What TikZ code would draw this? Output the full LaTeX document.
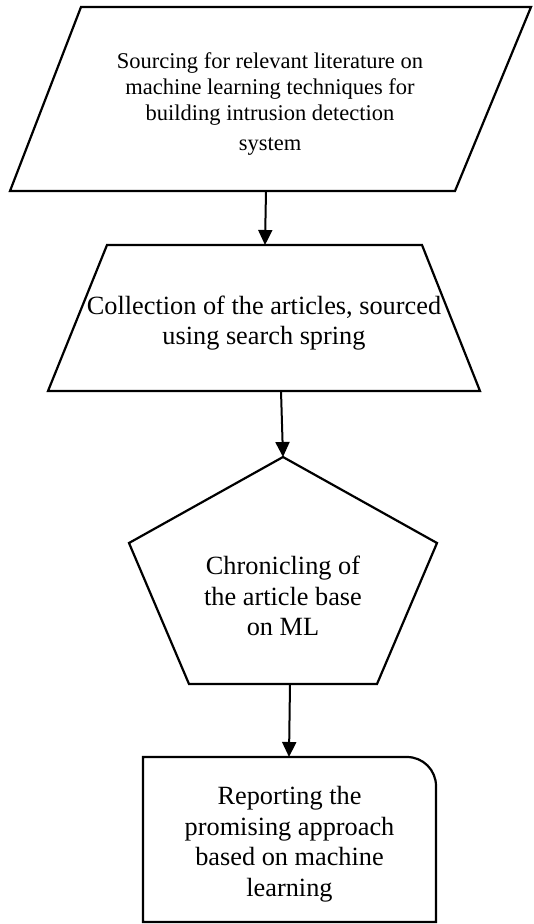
\documentclass[tikz,border=0pt]{standalone}
\usepackage{fontspec}
\setmainfont{Liberation Serif}
\usetikzlibrary{arrows.meta}

\begin{document}
\begin{tikzpicture}[
    x=1pt, y=-1pt,
    stepshape/.style={
        draw=black,
        line width=2.2pt,
        line join=miter
    },
    steptext/.style={
        align=center,
        inner sep=0pt,
        font=\fontsize{26.3}{30.5}\selectfont
    },
    flowarrow/.style={
        -{Triangle[length=15pt,width=14pt]},
        line width=2pt
    }
]
\useasboundingbox (0,0) rectangle (534,924);

% input: parallelogram
\draw[stepshape] (81,7) -- (531,7) -- (455,191) -- (10,191) -- cycle;
\coordinate (srcOut) at (266,191);
\node[steptext, font=\fontsize{22.5}{26}\selectfont] (src) at (270,104)
    {Sourcing for relevant literature on\\ machine learning techniques for\\ building intrusion detection\\[4pt] system};

% collection: trapezium
\draw[stepshape] (107,245) -- (422,245) -- (480,391) -- (48,391) -- cycle;
\coordinate (colIn) at (265,245);
\coordinate (colOut) at (281,391);
\node[steptext] (col) at (264,323) {Collection of the articles, sourced\\ using search spring};

% chronicling: pentagon
\draw[stepshape] (283,457) -- (437,543) -- (377,684) -- (189,684) -- (129,543) -- cycle;
\coordinate (chrIn) at (283,457);
\coordinate (chrOut) at (290,684);
\node[steptext] (chr) at (283,596) {Chronicling of\\ the article base\\ on ML};

% reporting: box with one round corner
\draw[stepshape] (143,922) -- (143,757) -- (407,757)
    arc[start angle=-90, end angle=0, radius=29] -- (436,922) -- cycle;
\coordinate (repIn) at (289,757);
\node[steptext] (rep) at (289.5,844) {Reporting the\\ promising approach\\ based on machine\\ learning};

\draw[flowarrow] (srcOut) -- (colIn);
\draw[flowarrow] (colOut) -- (chrIn);
\draw[flowarrow] (chrOut) -- (repIn);
\end{tikzpicture}
\end{document}
